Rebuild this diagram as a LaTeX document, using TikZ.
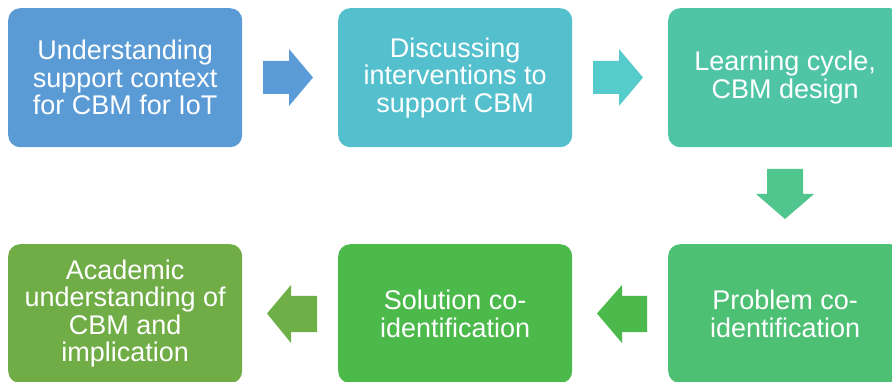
\documentclass[tikz,border=0pt]{standalone}
\usepackage{fontspec}
\setmainfont{Liberation Sans}
\begin{document}
\begin{tikzpicture}[x=1pt,y=-1pt,
  stepbox/.style={rounded corners=12pt, minimum width=234pt, minimum height=139pt,
    inner sep=0pt, text=white, align=center, anchor=north west,
    font=\fontsize{27pt}{27.5pt}\selectfont},
  blockarrow/.style={draw=none}]
\useasboundingbox (0,0) rectangle (892,382);
\definecolor{cA}{HTML}{5B9BD5}
\definecolor{cB}{HTML}{55C0CD}
\definecolor{cC}{HTML}{50C5A6}
\definecolor{cD}{HTML}{4EC074}
\definecolor{cE}{HTML}{4BBA4B}
\definecolor{cF}{HTML}{70AD47}
\definecolor{aA}{HTML}{5A9BD8}
\definecolor{aB}{HTML}{56CBCB}
\definecolor{aC}{HTML}{50C58E}
\definecolor{aD}{HTML}{4BB94B}
\definecolor{aE}{HTML}{6FAF47}

\node[stepbox, fill=cA] (n1) at (8,8) {Understanding\\support context\\for CBM for IoT};
\node[stepbox, fill=cB] (n2) at (338,8) {Discussing\\interventions to\\support CBM};
\node[stepbox, fill=cC] (n3) at (668,8) {Learning cycle,\\CBM design};
\node[stepbox, fill=cD] (n4) at (668,244) {Problem co-\\identification};
\node[stepbox, fill=cE] (n5) at (338,244) {Solution co-\\identification};
\node[stepbox, fill=cF] (n6) at (8,244) {Academic\\understanding of\\CBM and\\implication};

% right arrow n1 -> n2
\fill[aA] (263,61) -- (289,61) -- (289,49) -- (313,77.5) -- (289,106) -- (289,94) -- (263,94) -- cycle;
% right arrow n2 -> n3
\fill[aB] (593,61) -- (619,61) -- (619,49) -- (643,77.5) -- (619,106) -- (619,94) -- (593,94) -- cycle;
% down arrow n3 -> n4
\fill[aC] (767,169) -- (803,169) -- (803,194) -- (814,194) -- (785,219) -- (756,194) -- (767,194) -- cycle;
% left arrow n4 -> n5
\fill[aD] (647,296) -- (622,296) -- (622,285) -- (597,313.5) -- (622,343) -- (622,332) -- (647,332) -- cycle;
% left arrow n5 -> n6
\fill[aE] (317,296) -- (291,296) -- (291,285) -- (267,313.5) -- (291,343) -- (291,332) -- (317,332) -- cycle;
\end{tikzpicture}
\end{document}
